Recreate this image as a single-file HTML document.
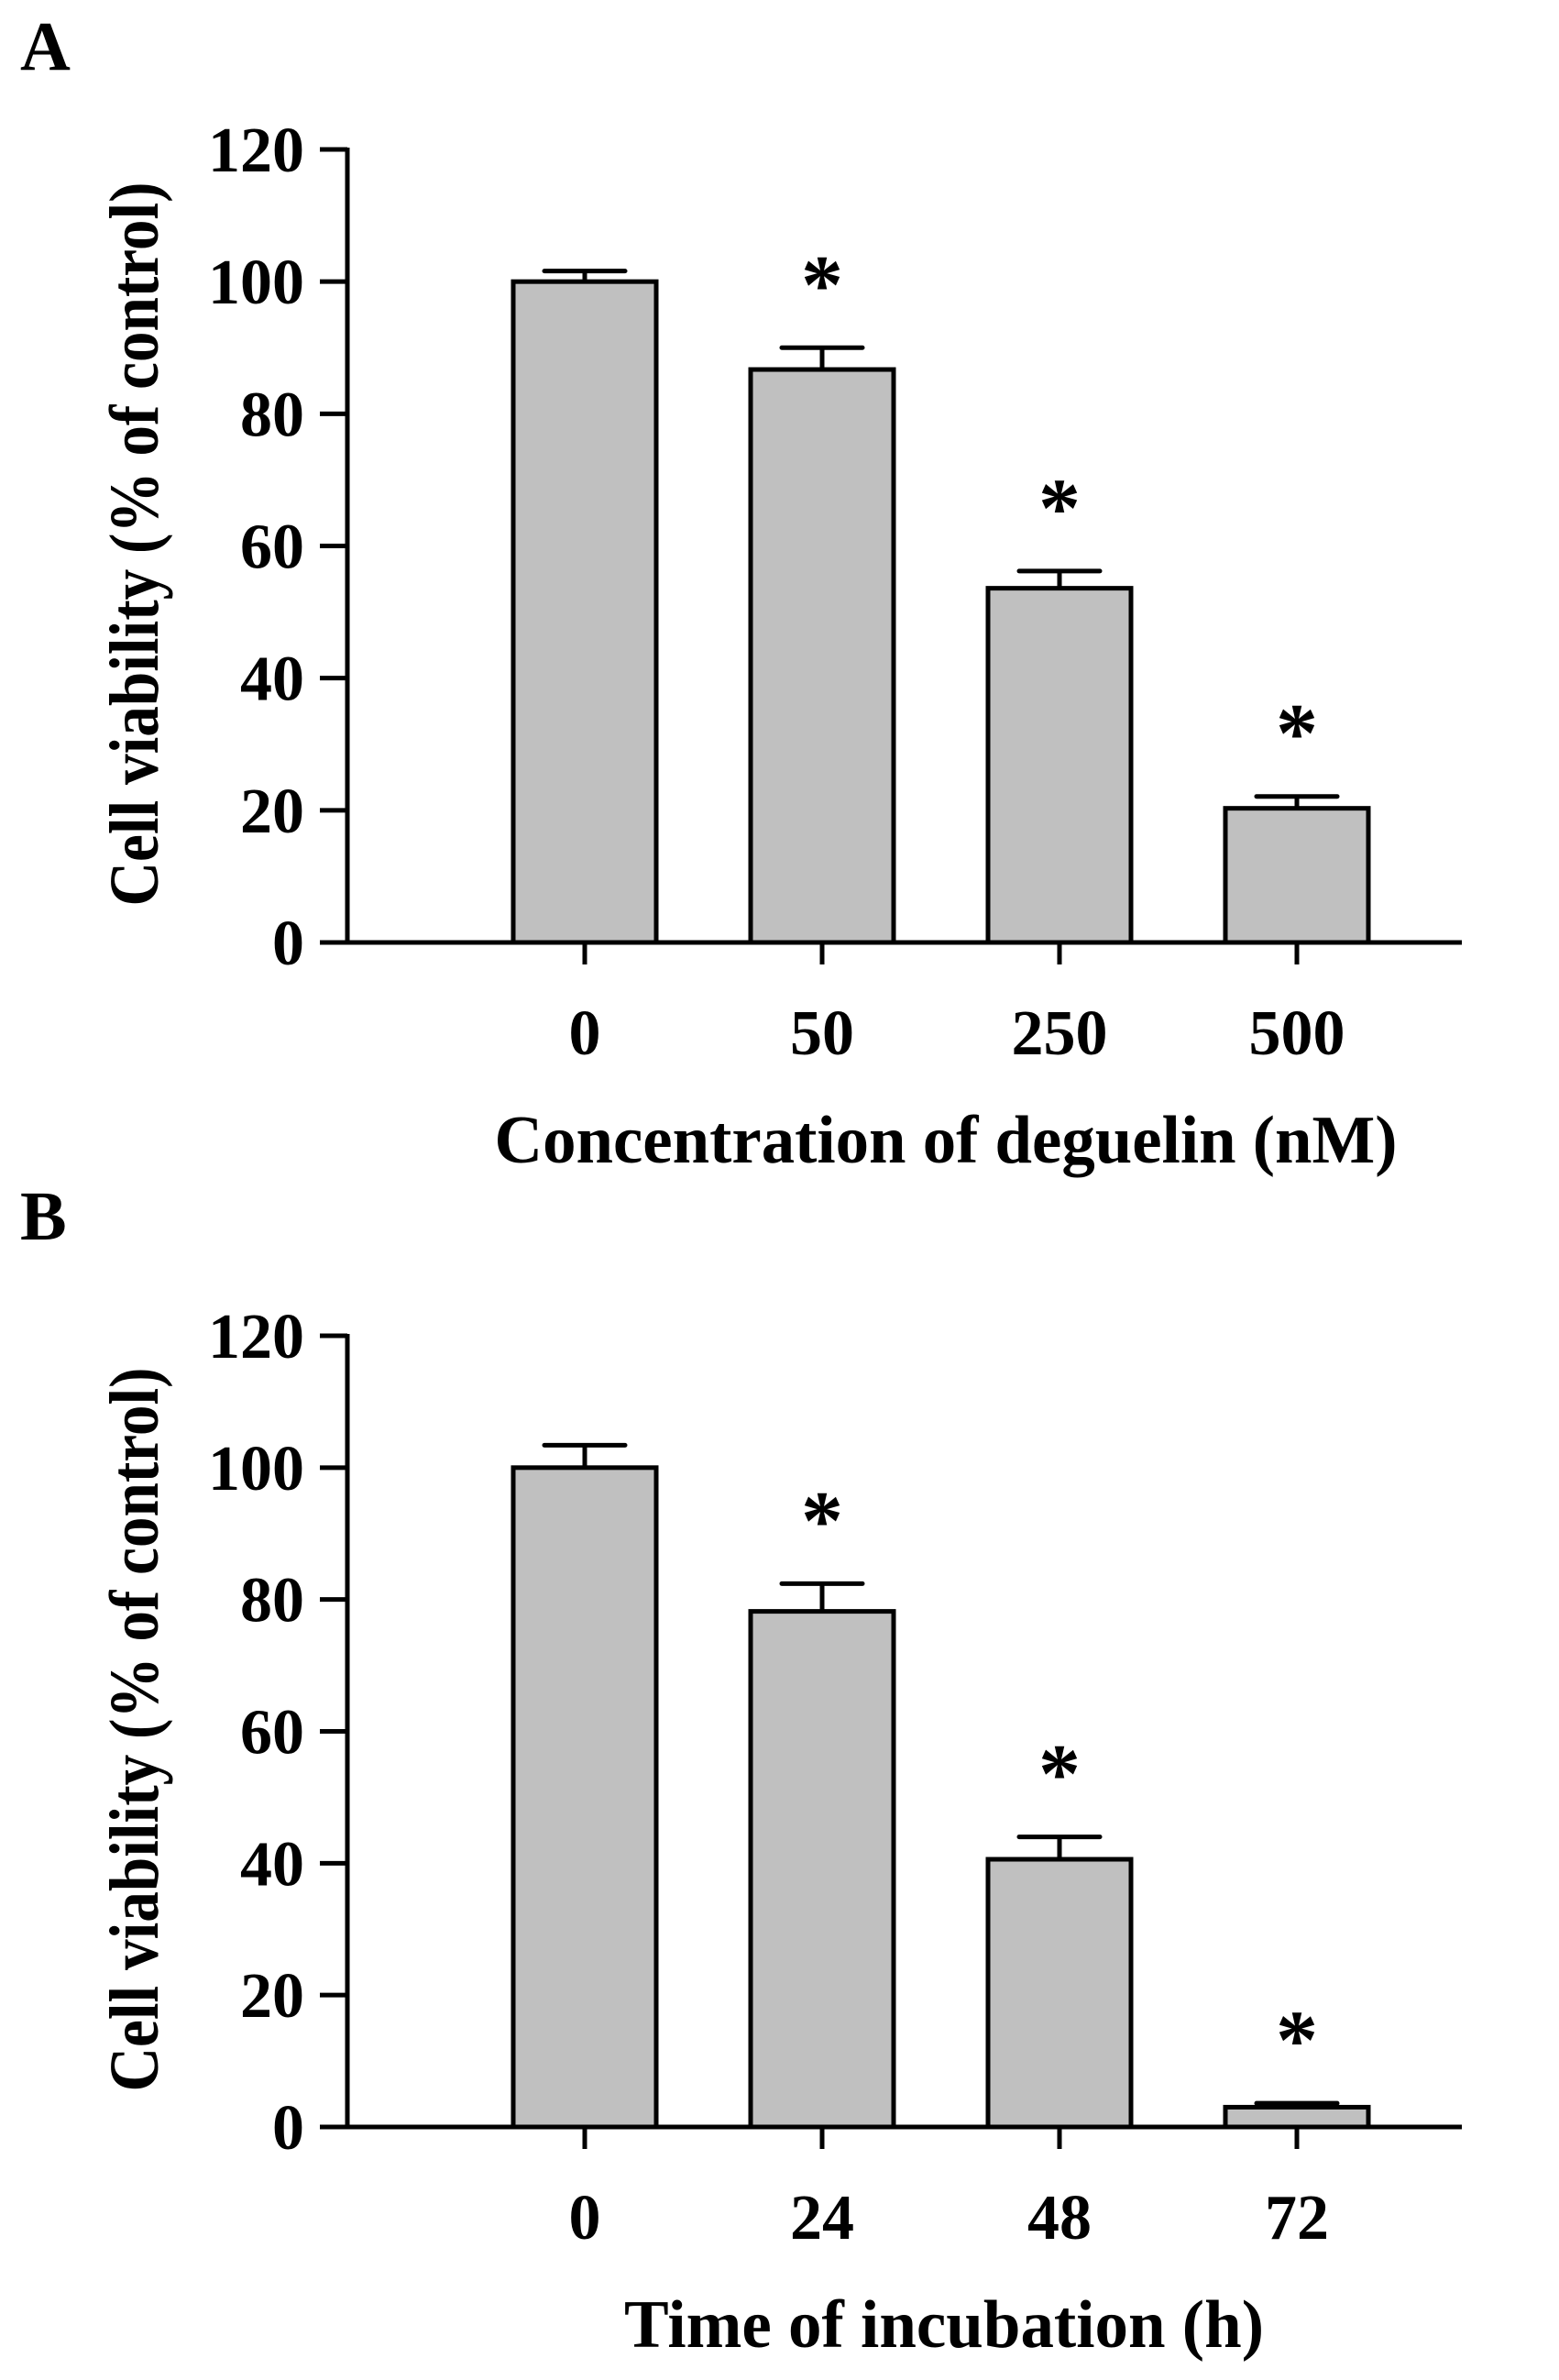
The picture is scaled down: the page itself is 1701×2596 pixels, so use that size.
<!DOCTYPE html>
<html><head><meta charset="utf-8"><style>
html,body{margin:0;padding:0;background:#fff}
svg{display:block}
text{font-family:"Liberation Serif",serif;font-weight:bold;fill:#000}
</style></head><body>
<svg id="fig" width="1701" height="2596" viewBox="0 0 1701 2596" xmlns="http://www.w3.org/2000/svg"></svg>
<script>
const yTicks = [0, 20, 40, 60, 80, 100, 120];
const catsA = ["0", "50", "250", "500"];
const valsA = [100, 86.7, 53.6, 20.3];
const errA = [1.6, 3.3, 2.6, 1.8];
const sigA = [false, true, true, true];
const catsB = ["0", "24", "48", "72"];
const valsB = [100, 78.2, 40.6, 3.0];
const errB = [3.4, 4.2, 3.4, 0.6];
const sigB = [false, true, true, true];

const NS = "http://www.w3.org/2000/svg";
const svg = document.getElementById("fig");
function mk(tag, attrs, parent) {
  const e = document.createElementNS(NS, tag);
  for (const k in attrs) e.setAttribute(k, attrs[k]);
  (parent || svg).appendChild(e);
  return e;
}

function panel(cfg) {
  const g = mk("g", {});
  
  
  const x0 = 379, x1 = 1595, yBase = cfg.yBase, yTop = cfg.yTop;
  const yScale = v => yBase - (v / 120) * (yBase - yTop);
  const xCenter = i => 638 + i * 259;
  const barW = 156;
  const sw = 5;

  const lbl = mk("text", {x: 22, y: cfg.letterY, "font-size": 76}, g);
  lbl.textContent = cfg.letter;
  
  

  cfg.vals.forEach((v, i) => {
    const cx = xCenter(i);
    const top = yScale(v);
    const et = yScale(v + cfg.errs[i]);
    const eb = mk("line", {x1: cx, x2: cx, y1: top, y2: et, stroke: "#000", "stroke-width": sw}, g);
    
    
    const cap = mk("line", {x1: cx - 44, x2: cx + 44, y1: et, y2: et, stroke: "#000", "stroke-width": sw, "stroke-linecap": "round"}, g);
    
    
    const r = mk("rect", {x: cx - barW / 2, y: top, width: barW, height: yBase - top, fill: "#c0c0c0", stroke: "#000", "stroke-width": sw}, g);
    
    
    if (cfg.sig[i]) {
      const s = mk("text", {x: cx, y: et - 38, "font-size": 92, "text-anchor": "middle", "font-weight": "normal"}, g);
      s.textContent = "*";
      
      
    }
    const t = mk("line", {x1: cx, x2: cx, y1: yBase, y2: yBase + 24, stroke: "#000", "stroke-width": sw}, g);
    
    
    const tl = mk("text", {x: cx, y: yBase + 122, "font-size": 70, "text-anchor": "middle"}, g);
    tl.textContent = cfg.cats[i];
    
    
  });

  const ya = mk("line", {x1: x0, x2: x0, y1: yTop - 2, y2: yBase, stroke: "#000", "stroke-width": sw}, g);
  
  
  const xa = mk("line", {x1: x0 - 30, x2: x1, y1: yBase, y2: yBase, stroke: "#000", "stroke-width": sw}, g);
  
  
  yTicks.forEach(v => {
    const y = yScale(v);
    const t = mk("line", {x1: x0 - 30, x2: x0, y1: y, y2: y, stroke: "#000", "stroke-width": sw}, g);
    
    
    const tl = mk("text", {x: 332, y: y + 24, "font-size": 70, "text-anchor": "end"}, g);
    tl.textContent = String(v);
    
    
  });

  const cy = (yTop + yBase) / 2;
  const yt = mk("text", {x: 0, y: 0, "font-size": 76, "text-anchor": "middle", textLength: 790, lengthAdjust: "spacingAndGlyphs", transform: `translate(172 ${cy - 2}) rotate(-90)`}, g);
  yt.textContent = "Cell viability (% of control)";
  
  

  const xt = mk("text", {x: cfg.xtCenter, y: yBase + 240, "font-size": 74, "text-anchor": "middle", textLength: cfg.xtLen, lengthAdjust: "spacingAndGlyphs"}, g);
  xt.textContent = cfg.xTitle;
  
  
}

panel({name: "panel-a", letter: "A", letterY: 76, yTop: 163, yBase: 1028, cats: catsA, vals: valsA, errs: errA, sig: sigA,
  xTitle: "Concentration of deguelin (nM)", xtCenter: 1032, xtLen: 985});
panel({name: "panel-b", letter: "B", letterY: 1352, yTop: 1457, yBase: 2320, cats: catsB, vals: valsB, errs: errB, sig: sigB,
  xTitle: "Time of incubation (h)", xtCenter: 1030, xtLen: 698});
</script>
</body></html>
